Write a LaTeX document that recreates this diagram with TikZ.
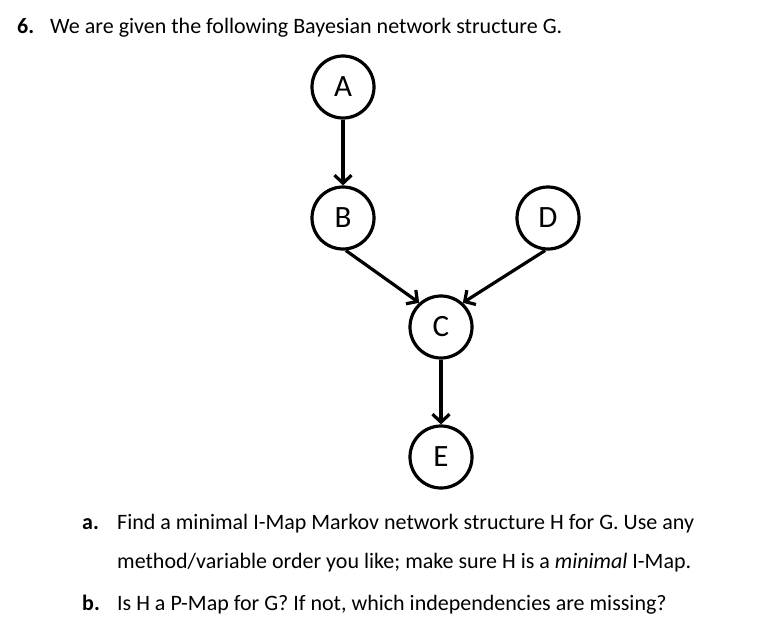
\documentclass[tikz,border=0pt]{standalone}
\usepackage{fontspec}
\setmainfont{Carlito}
\usetikzlibrary{arrows.meta}

\begin{document}
\begin{tikzpicture}[x=1pt, y=-1pt, bnnode/.style={circle, draw=black, fill=white, line width=3.2pt, minimum size=62pt, inner sep=0pt, font=\fontsize{31}{34}\selectfont}, arr/.style={-{Straight Barb[length=8pt, width=17pt]}, line width=3.2pt, draw=black}, qtext/.style={anchor=base west, inner sep=0pt, font=\fontsize{22}{26}\selectfont}
]
  \useasboundingbox (0,0) rectangle (759,634);
  \node[qtext] (qnum) at (17,34) {\textbf{6.}};
  \node[qtext] (qline) at (50,34) {We are given the following Bayesian network structure G.};
  \node[bnnode] (a) at (343,87) {A};
  \node[bnnode] (b) at (343,218) {B};
  \node[bnnode] (d) at (548,218) {D};
  \node[bnnode] (c) at (441,327) {C};
  \node[bnnode] (e) at (441,457) {E};
  \draw[arr] (a.south) -- (b.north);
  \draw[arr] (b.-85) -- (c.132);
  \draw[arr] (d.-95) -- (c.48);
  \draw[arr] (c.south) -- (e.north);
  \node[qtext] (alab) at (82,529) {\textbf{a.}};
  \node[qtext] (aline1) at (117,529) {Find a minimal I-Map Markov network structure H for G. Use any};
  \node[qtext] (aline2) at (117,568) {method/variable order you like; make sure H is a \textit{minimal} I-Map.};
  \node[qtext] (blab) at (82,610) {\textbf{b.}};
  \node[qtext] (bline) at (117,610) {Is H a P-Map for G? If not, which independencies are missing?};
\end{tikzpicture}
\end{document}
